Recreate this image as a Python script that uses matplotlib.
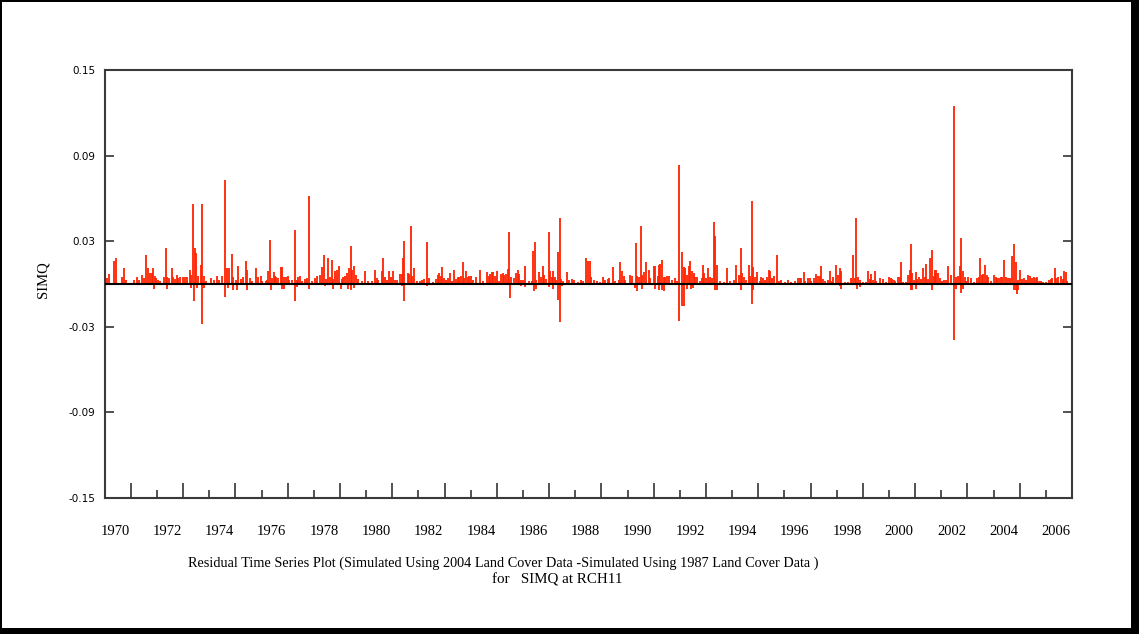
import matplotlib
matplotlib.use('Agg')
import matplotlib.pyplot as plt
import matplotlib.transforms as mtransforms
from matplotlib.patches import Rectangle
import numpy as np

# residuals (decimal year, SIMQ difference)
resid_1970_1975 = [
    (1969.71, .0042), (1969.76, .0072), (1969.96, .0159), (1970.03, .0180), (1970.28, .0049),
    (1970.34, .0110), (1970.41, .0030), (1970.73, .0026), (1970.85, .0049), (1970.92, .0030),
    (1971.05, .0065), (1971.11, .0042), (1971.20, .0203), (1971.28, .0110), (1971.34, .0077),
    (1971.40, .0077), (1971.47, .0110), (1971.52, .0054), (1971.58, .0040), (1971.65, .0026),
    (1971.71, .0019), (1971.88, .0049), (1971.95, .0250), (1972.00, .0049), (1972.07, .0042),
    (1972.17, .0110), (1972.23, .0049), (1972.30, .0035), (1972.36, .0065), (1972.42, .0042),
    (1972.49, .0049), (1972.61, .0049), (1972.68, .0049), (1972.77, .0049), (1972.87, .0100),
    (1972.92, .0065), (1973.00, .0563), (1973.05, .0250), (1973.11, .0217), (1973.18, .0054),
    (1973.28, .0133), (1973.34, .0563), (1973.41, .0054), (1973.47, .0019), (1973.66, .0042),
    (1973.79, .0026), (1973.92, .0058), (1973.98, .0030), (1974.11, .0054), (1974.20, .0730),
    (1974.27, .0110), (1974.36, .0112), (1974.46, .0210), (1974.53, .0049), (1974.62, .0030),
    (1974.71, .0128), (1974.83, .0035), (1974.91, .0049), (1975.00, .0159), (1975.06, .0096),
    (1975.15, .0042), (1975.25, .0019), (1975.38, .0110), (1975.47, .0049), (1975.57, .0058),
    (1975.64, .0019), (1975.76, .0019),
    (1971.49, -.0033), (1972.00, -.0033), (1972.92, -.0028), (1973.02, -.0121), (1973.15, -.0028),
    (1973.34, -.0278), (1973.41, -.0028), (1974.20, -.0091), (1974.32, -.0028), (1974.53, -.0040),
    (1974.68, -.0040), (1975.04, -.0040),
]

resid_1976_1981 = [
    (1975.80, .0026), (1975.87, .0093), (1975.92, .0311), (1975.99, .0042), (1976.07, .0086),
    (1976.12, .0058), (1976.18, .0049), (1976.25, .0042), (1976.35, .0119), (1976.40, .0119),
    (1976.47, .0049), (1976.53, .0049), (1976.61, .0058), (1976.67, .0030), (1976.76, .0026),
    (1976.89, .0376), (1976.95, .0030), (1977.01, .0049), (1977.08, .0058), (1977.14, .0019),
    (1977.27, .0035), (1977.33, .0042), (1977.41, .0614), (1977.52, .0019), (1977.65, .0042),
    (1977.72, .0054), (1977.84, .0065), (1977.91, .0119), (1978.01, .0201), (1978.08, .0035),
    (1978.16, .0182), (1978.23, .0049), (1978.29, .0171), (1978.35, .0035), (1978.42, .0089),
    (1978.48, .0100), (1978.57, .0128), (1978.67, .0035), (1978.74, .0049), (1978.80, .0054),
    (1978.86, .0077), (1978.95, .0112), (1979.03, .0269), (1979.08, .0100), (1979.14, .0128),
    (1979.21, .0065), (1979.31, .0035), (1979.44, .0019), (1979.56, .0093), (1979.69, .0019),
    (1979.82, .0019), (1979.95, .0100), (1980.01, .0042), (1980.07, .0026), (1980.20, .0089),
    (1980.27, .0182), (1980.33, .0049), (1980.39, .0030), (1980.48, .0093), (1980.56, .0049),
    (1980.65, .0089), (1980.71, .0026), (1980.78, .0030), (1980.90, .0072), (1980.97, .0072),
    (1981.03, .0182), (1981.07, .0299), (1981.20, .0077), (1981.26, .0072), (1981.32, .0409),
    (1981.37, .0058), (1981.44, .0112), (1981.54, .0019), (1981.67, .0019), (1981.73, .0030),
    (1981.83, .0035), (1981.95, .0292),
    (1975.97, -.0040), (1976.40, -.0033), (1976.48, -.0033), (1976.89, -.0121), (1976.95, -.0021),
    (1977.41, -.0033), (1978.03, -.0016), (1978.35, -.0033), (1978.65, -.0033), (1978.93, -.0033),
    (1979.03, -.0040), (1979.16, -.0028), (1980.97, -.0016), (1981.07, -.0121),
]

resid_1982_1987 = [
    (1982.03, .0042), (1982.15, .0012), (1982.28, .0035), (1982.34, .0065), (1982.41, .0077),
    (1982.47, .0058), (1982.51, .0119), (1982.60, .0042), (1982.66, .0030), (1982.73, .0042),
    (1982.82, .0077), (1982.89, .0019), (1982.98, .0100), (1983.05, .0035), (1983.11, .0049),
    (1983.17, .0049), (1983.24, .0054), (1983.31, .0152), (1983.36, .0042), (1983.43, .0089),
    (1983.49, .0049), (1983.56, .0054), (1983.62, .0054), (1983.68, .0030), (1983.81, .0049),
    (1983.98, .0096), (1984.07, .0019), (1984.22, .0082), (1984.30, .0058), (1984.35, .0072),
    (1984.41, .0082), (1984.47, .0082), (1984.54, .0054), (1984.60, .0089), (1984.68, .0019),
    (1984.77, .0072), (1984.83, .0077), (1984.90, .0065), (1984.96, .0072), (1985.02, .0105),
    (1985.09, .0367), (1985.15, .0049), (1985.28, .0042), (1985.34, .0077), (1985.41, .0100),
    (1985.47, .0072), (1985.53, .0026), (1985.60, .0030), (1985.67, .0128), (1985.85, .0019),
    (1985.95, .0019), (1986.00, .0229), (1986.06, .0292), (1986.11, .0026), (1986.23, .0082),
    (1986.30, .0049), (1986.36, .0128), (1986.43, .0065), (1986.49, .0035), (1986.59, .0367),
    (1986.64, .0089), (1986.72, .0049), (1986.77, .0093), (1986.82, .0049), (1986.87, .0030),
    (1986.96, .0222), (1987.01, .0465), (1987.06, .0035), (1987.15, .0019), (1987.28, .0082),
    (1987.38, .0026), (1987.48, .0035), (1987.57, .0030), (1987.70, .0016), (1987.83, .0030),
    (1987.89, .0019),
    (1981.92, -.0012), (1985.11, -.0098), (1985.53, -.0016), (1985.70, -.0021), (1986.04, -.0051),
    (1986.11, -.0035), (1986.59, -.0023), (1986.74, -.0033), (1986.96, -.0110), (1987.01, -.0269),
    (1987.10, -.0016),
]

resid_1988_1993 = [
    (1988.02, .0182), (1988.08, .0159), (1988.16, .0159), (1988.21, .0049), (1988.31, .0030),
    (1988.44, .0019), (1988.57, .0012), (1988.67, .0049), (1988.76, .0026), (1988.85, .0035),
    (1988.91, .0042), (1989.05, .0119), (1989.14, .0019), (1989.27, .0030), (1989.33, .0152),
    (1989.40, .0089), (1989.46, .0058), (1989.52, .0030), (1989.72, .0065), (1989.79, .0058),
    (1989.92, .0287), (1989.97, .0054), (1990.03, .0049), (1990.12, .0404), (1990.17, .0065),
    (1990.25, .0082), (1990.33, .0152), (1990.42, .0096), (1990.48, .0042), (1990.61, .0124),
    (1990.67, .0128), (1990.76, .0054), (1990.81, .0135), (1990.86, .0142), (1990.94, .0166),
    (1990.99, .0049), (1991.05, .0049), (1991.12, .0054), (1991.18, .0054), (1991.31, .0030),
    (1991.44, .0042), (1991.50, .0019), (1991.58, .0836), (1991.69, .0222), (1991.76, .0119),
    (1991.82, .0112), (1991.88, .0065), (1991.95, .0128), (1992.01, .0161), (1992.07, .0089),
    (1992.14, .0077), (1992.20, .0049), (1992.27, .0049), (1992.39, .0019), (1992.46, .0042),
    (1992.50, .0133), (1992.55, .0077), (1992.62, .0042), (1992.70, .0110), (1992.78, .0049),
    (1992.84, .0042), (1992.90, .0434), (1992.97, .0339), (1993.03, .0135), (1993.13, .0019),
    (1993.29, .0012), (1993.41, .0114), (1993.54, .0019), (1993.67, .0030), (1993.77, .0135),
    (1993.86, .0065), (1993.94, .0250), (1993.99, .0077), (1994.05, .0049), (1994.14, .0030),
    (1994.24, .0135),
    (1989.91, -.0028), (1989.97, -.0051), (1990.16, -.0035), (1990.67, -.0035), (1990.80, -.0040),
    (1990.93, -.0040), (1990.99, -.0051), (1991.58, -.0257), (1991.68, -.0152), (1991.78, -.0152),
    (1991.88, -.0035), (1992.04, -.0035), (1992.11, -.0028), (1992.97, -.0044), (1993.03, -.0040),
    (1993.95, -.0040),
]

resid_1994_1999 = [
    (1994.28, .0058), (1994.36, .0584), (1994.41, .0119), (1994.50, .0049), (1994.57, .0082),
    (1994.66, .0019), (1994.73, .0049), (1994.79, .0042), (1994.85, .0030), (1994.94, .0049),
    (1995.01, .0100), (1995.06, .0091), (1995.13, .0042), (1995.21, .0058), (1995.33, .0201),
    (1995.39, .0019), (1995.49, .0026), (1995.62, .0012), (1995.75, .0030), (1995.87, .0016),
    (1996.00, .0019), (1996.13, .0042), (1996.19, .0042), (1996.26, .0042), (1996.35, .0082),
    (1996.41, .0019), (1996.51, .0042), (1996.58, .0042), (1996.64, .0019), (1996.74, .0042),
    (1996.83, .0072), (1996.89, .0058), (1996.96, .0058), (1997.02, .0128), (1997.09, .0035),
    (1997.15, .0019), (1997.28, .0026), (1997.35, .0091), (1997.43, .0019), (1997.48, .0049),
    (1997.57, .0133), (1997.66, .0065), (1997.74, .0114), (1997.79, .0091), (1997.91, .0016),
    (1998.04, .0012), (1998.17, .0042), (1998.23, .0201), (1998.30, .0042), (1998.36, .0465),
    (1998.42, .0049), (1998.49, .0026), (1998.62, .0012), (1998.74, .0016), (1998.81, .0091),
    (1998.87, .0035), (1998.93, .0072), (1999.01, .0026), (1999.06, .0091), (1999.13, .0019),
    (1999.25, .0042), (1999.38, .0035), (1999.51, .0012), (1999.60, .0049), (1999.67, .0042),
    (1999.73, .0035), (1999.80, .0030), (1999.85, .0019), (1999.95, .0049), (2000.02, .0049),
    (2000.06, .0152), (2000.15, .0012), (2000.27, .0012), (2000.34, .0065), (2000.40, .0100),
    (2000.44, .0280),
    (1994.36, -.0140), (1994.41, -.0040), (1997.72, -.0016), (1997.79, -.0035), (1998.39, -.0035),
    (1998.49, -.0021), (2000.44, -.0044),
]

resid_2000_2006 = [
    (2000.50, .0077), (2000.57, .0026), (2000.63, .0086), (2000.69, .0035), (2000.76, .0049),
    (2000.82, .0035), (2000.91, .0112), (2000.97, .0049), (2001.04, .0142), (2001.12, .0035),
    (2001.19, .0182), (2001.24, .0241), (2001.32, .0058), (2001.37, .0100), (2001.42, .0096),
    (2001.50, .0077), (2001.55, .0042), (2001.63, .0019), (2001.71, .0030), (2001.78, .0030),
    (2001.87, .0124), (2001.97, .0065), (2002.08, .1250), (2002.16, .0049), (2002.25, .0058),
    (2002.31, .0124), (2002.38, .0320), (2002.44, .0089), (2002.51, .0049), (2002.57, .0019),
    (2002.65, .0049), (2002.73, .0042), (2002.86, .0016), (2002.99, .0042), (2003.04, .0049),
    (2003.09, .0182), (2003.16, .0065), (2003.22, .0072), (2003.28, .0133), (2003.35, .0065),
    (2003.41, .0049), (2003.50, .0019), (2003.63, .0065), (2003.69, .0049), (2003.75, .0040),
    (2003.82, .0040), (2003.88, .0049), (2003.95, .0049), (2004.02, .0166), (2004.07, .0049),
    (2004.15, .0042), (2004.23, .0040), (2004.32, .0199), (2004.39, .0283), (2004.46, .0157),
    (2004.53, .0026), (2004.63, .0096), (2004.71, .0035), (2004.77, .0042), (2004.84, .0026),
    (2004.94, .0065), (2004.99, .0058), (2005.07, .0042), (2005.14, .0049), (2005.22, .0042),
    (2005.29, .0049), (2005.35, .0019), (2005.41, .0019), (2005.50, .0012), (2005.60, .0016),
    (2005.73, .0026), (2005.80, .0035), (2005.86, .0042), (2005.95, .0112), (2006.01, .0042),
    (2006.09, .0049), (2006.18, .0058), (2006.27, .0035), (2006.32, .0093), (2006.37, .0082),
    (2006.43, .0019),
    (2000.50, -.0040), (2000.63, -.0033), (2001.27, -.0044), (2002.08, -.0390), (2002.16, -.0033),
    (2002.38, -.0063), (2002.44, -.0035), (2004.39, -.0040), (2004.46, -.0040), (2004.49, -.0070),
    (2004.55, -.0040),
]

year_labels = list(range(1970, 2007, 2))
tick_years = [y + 0.61 for y in range(1970, 2006)]
y_ticks = [-0.15, -0.09, -0.03, 0.03, 0.09, 0.15]

caption_1 = 'Residual Time Series Plot (Simulated Using 2004 Land Cover Data -Simulated Using 1987 Land Cover Data )'
caption_2 = 'for   SIMQ at RCH11'

resid = resid_1970_1975 + resid_1976_1981 + resid_1982_1987 + resid_1988_1993 + resid_1994_1999 + resid_2000_2006
t = np.array([r[0] for r in resid])
v = np.array([r[1] for r in resid])

fig = plt.figure(figsize=(11.39, 6.34), dpi=100, facecolor='black')
fig.patches.append(Rectangle((2 / 1139, 6 / 634), 1129 / 1139, 626 / 634,
                             transform=fig.transFigure, facecolor='white', edgecolor='none', zorder=-1))

ax = fig.add_axes([105 / 1139, 136 / 634, 967 / 1139, 428 / 634])
ax.set_facecolor('white')
ax.vlines(t, 0, v, color='#ff2200', linewidth=1.3)
ax.axhline(0, color='black', linewidth=1.5, zorder=3)

ax.set_xlim(1969.62, 2006.61)
ax.set_ylim(-0.15, 0.15)

for s in ax.spines.values():
    s.set_color('#3a3a3a')
    s.set_linewidth(1.5)

# y ticks on both sides, pointing inward
ax.set_yticks(y_ticks)
ax.set_yticklabels(['-0.15', '-0.09', '-0.03', '0.03', '0.09', '0.15'])
ax.tick_params(axis='y', direction='in', length=6.5, width=1.1, color='#222222',
               left=True, right=True, labelsize=7.5, pad=7)

# x ticks: long every two years, short in between, offset from the labels
ax.set_xticks([ty for i, ty in enumerate(tick_years) if i % 2 == 0])
ax.set_xticks([ty for i, ty in enumerate(tick_years) if i % 2 == 1], minor=True)
ax.tick_params(axis='x', which='major', direction='in', length=10.5, width=1.1,
               color='#222222', labelbottom=False)
ax.tick_params(axis='x', which='minor', direction='in', length=6, width=1.1,
               color='#222222', labelbottom=False)

trans = mtransforms.blended_transform_factory(ax.transData, ax.transAxes)
for yr in year_labels:
    ax.text(yr, -0.0794, str(yr), transform=trans, ha='center', va='center',
            family='Liberation Serif', fontsize=10.5)

fig.text(43 / 1139, 1 - 280 / 634, 'SIMQ', rotation=90, ha='center', va='center',
         family='Liberation Serif', fontsize=10.5)
fig.text(188 / 1139, 1 - 563 / 634, caption_1, ha='left', va='center',
         family='Liberation Serif', fontsize=10.25)
fig.text(492 / 1139, 1 - 580 / 634, caption_2, ha='left', va='center',
         family='Liberation Serif', fontsize=10.8)

plt.savefig('out.png', dpi=100, facecolor=fig.get_facecolor())
